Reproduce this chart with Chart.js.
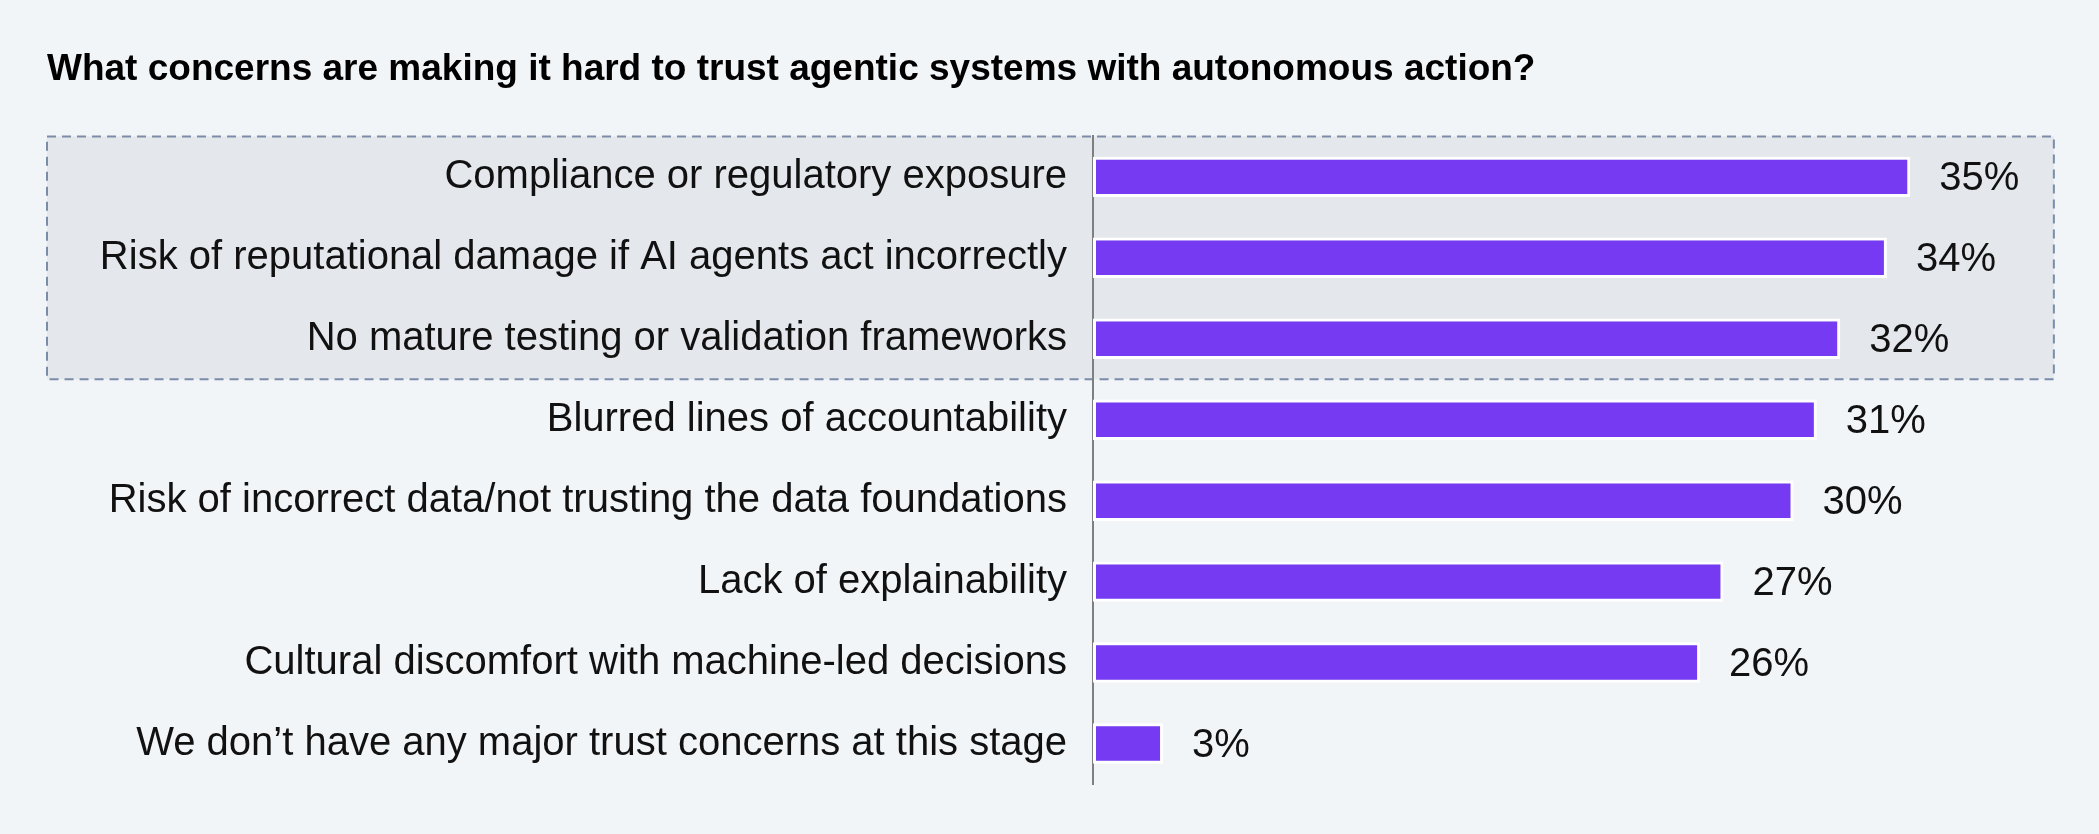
<!DOCTYPE html>
<html>
<head>
<meta charset="utf-8">
<script src="https://cdn.jsdelivr.net/npm/chart.js@4/dist/chart.umd.min.js"></script>
<style>
  html, body { margin: 0; padding: 0; background: #F2F5F8; }
  #wrap { position: relative; width: 2099px; height: 834px; }
</style>
</head>
<body>
<div id="wrap"><canvas id="trustChart" width="2099" height="834"></canvas></div>
<script>
const chartTitle = "What concerns are making it hard to trust agentic systems with autonomous action?";
const concerns = [
  "Compliance or regulatory exposure",
  "Risk of reputational damage if AI agents act incorrectly",
  "No mature testing or validation frameworks",
  "Blurred lines of accountability",
  "Risk of incorrect data/not trusting the data foundations",
  "Lack of explainability",
  "Cultural discomfort with machine-led decisions",
  "We don\u2019t have any major trust concerns at this stage"
];
const shares = [35, 34, 32, 31, 30, 27, 26, 3];
const highlighted = 3; // first three rows sit in the dashed box

const LEFT = 47;
const AXIS_X = 1093;
const FONT = '"Liberation Sans", Arial, Helvetica, sans-serif';

// shaded dashed box behind the top rows (drawn before scales so labels stay on top)
const highlightBox = {
  id: "highlightBox",
  beforeDraw(chart) {
    const { ctx } = chart;
    const y = chart.scales.y, x = chart.scales.x;
    const step = y.getPixelForValue(1) - y.getPixelForValue(0);
    const top = y.getPixelForValue(0) - step / 2;
    const bottom = y.getPixelForValue(highlighted - 1) + step / 2;
    const right = x.getPixelForValue(41.15);
    ctx.save();
    ctx.fillStyle = "#E4E8ED";
    ctx.fillRect(LEFT, top, right - LEFT, bottom - top);
    ctx.setLineDash([9, 6]);
    ctx.lineWidth = 2;
    ctx.strokeStyle = "#7A8CA8";
    ctx.strokeRect(LEFT, top, right - LEFT, bottom - top);
    ctx.restore();
  }
};

// percentage labels at the end of each bar
const valueLabels = {
  id: "valueLabels",
  afterDatasetsDraw(chart) {
    const { ctx } = chart;
    const meta = chart.getDatasetMeta(0);
    ctx.save();
    ctx.font = "40px " + FONT;
    ctx.fillStyle = "#111";
    ctx.textBaseline = "middle";
    ctx.textAlign = "left";
    meta.data.forEach((bar, i) => {
      ctx.fillText(shares[i] + "%", bar.x + 29, bar.y + 2);
    });
    ctx.restore();
  }
};

const ctx = document.getElementById("trustChart").getContext("2d");
new Chart(ctx, {
  type: "bar",
  data: {
    labels: concerns,
    datasets: [{
      data: shares,
      backgroundColor: "#763AF2",
      borderColor: "#FFFFFF",
      borderWidth: 3,
      borderSkipped: false,
      barPercentage: 0.5,
      categoryPercentage: 1.0
    }]
  },
  options: {
    indexAxis: "y",
    responsive: false,
    animation: false,
    layout: { padding: { left: LEFT, right: 72, top: 0, bottom: 46 } },
    scales: {
      x: { display: false, min: 0, max: 40 },
      y: {
        z: 1,
        grid: { display: false, drawTicks: false },
        border: { display: true, color: "#7F7F7F", width: 2 },
        ticks: { color: "#111", padding: 26, font: { family: FONT, size: 40 } },
        afterFit(scale) { scale.width = AXIS_X - LEFT; }
      }
    },
    plugins: {
      legend: { display: false },
      tooltip: { enabled: false },
      title: {
        display: true,
        text: chartTitle,
        align: "start",
        color: "#000",
        font: { family: FONT, size: 37, weight: "bold", lineHeight: 1.2 },
        padding: { top: 48, bottom: 44 }
      }
    }
  },
  plugins: [highlightBox, valueLabels]
});
</script>
</body>
</html>
